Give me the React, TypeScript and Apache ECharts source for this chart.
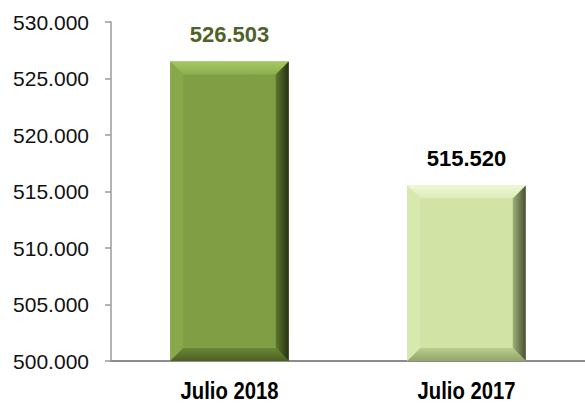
import React, { useEffect, useRef } from "react";
import * as echarts from "echarts";

const categories = ["Julio 2018", "Julio 2017"];
const values = [526503, 515520];
const labelColors = ["#4F6228", "#000000"];
const yMin = 500000;
const yMax = 530000;
const yInterval = 5000;

const palettes = [
  { face: "#809F45", top1: "#A6C862", top2: "#8DAE4E", left: "#88A84A", right1: "#5C772F", right2: "#263010", bottom1: "#6A8836", bottom2: "#4A6022" },
  { face: "#D1E3A5", top1: "#EEF7D6", top2: "#DBEBB6", left: "#D8E9AF", right1: "#A0B078", right2: "#474F32", bottom1: "#BACD8C", bottom2: "#93A66A" },
];

const fmt = (v: number) => String(v).replace(/\B(?=(\d{3})+(?!\d))/g, ".");

export default function App() {
  const ref = useRef<HTMLDivElement>(null);
  useEffect(() => {
    document.body.style.margin = "0";
    const chart = echarts.init(ref.current!, null, { renderer: "svg" });
    chart.setOption({
      animation: false,
      grid: { left: 111, right: -7, top: 22, bottom: 43 },
      xAxis: {
        type: "category",
        data: categories,
        axisLine: { lineStyle: { color: "#8C8C8C", width: 2 } },
        axisTick: { show: false },
        axisLabel: { show: false },
      },
      yAxis: {
        type: "value",
        min: yMin,
        max: yMax,
        interval: yInterval,
        splitLine: { show: false },
        axisLine: { show: true, lineStyle: { color: "#9A9A9A", width: 1.5 } },
        axisTick: { show: true, length: 6, lineStyle: { color: "#9A9A9A", width: 1.5 } },
        axisLabel: {
          margin: 22,
          fontFamily: "'Liberation Sans', Arial, sans-serif",
          fontSize: 21,
          color: "#111",
          formatter: (v: number) => fmt(v),
        },
      },
      series: [
        {
          type: "custom",
          data: values.map((v, i) => [i, v]),
          clip: false,
          renderItem: (params: any, api: any) => {
            const idx = params.dataIndex;
            const p = palettes[idx];
            const topPt = api.coord([api.value(0), api.value(1)]);
            const basePt = api.coord([api.value(0), yMin]);
            const bw = api.size([1, 0])[0] * 0.5;
            const x0 = topPt[0] - bw / 2;
            const x1 = topPt[0] + bw / 2;
            const y0 = topPt[1];
            const y1 = basePt[1];
            const b = 13;
            const grad = (a: number, c: number, d: number, e: number, c1: string, c2: string) =>
              new echarts.graphic.LinearGradient(a, c, d, e, [
                { offset: 0, color: c1 },
                { offset: 1, color: c2 },
              ]);
            return {
              type: "group",
              children: [
                { type: "rect", shape: { x: x0, y: y0, width: x1 - x0, height: y1 - y0 }, style: { fill: p.face } },
                {
                  type: "polygon",
                  shape: { points: [[x0, y0], [x1, y0], [x1 - b, y0 + b], [x0 + b, y0 + b]] },
                  style: { fill: grad(0, 0, 0, 1, p.top1, p.top2) },
                },
                {
                  type: "polygon",
                  shape: { points: [[x0, y0], [x0 + b, y0 + b], [x0 + b, y1 - b], [x0, y1]] },
                  style: { fill: p.left },
                },
                {
                  type: "polygon",
                  shape: { points: [[x1, y0], [x1, y1], [x1 - b, y1 - b], [x1 - b, y0 + b]] },
                  style: { fill: grad(0, 0, 1, 0, p.right1, p.right2) },
                },
                {
                  type: "polygon",
                  shape: { points: [[x0, y1], [x0 + b, y1 - b], [x1 - b, y1 - b], [x1, y1]] },
                  style: { fill: grad(0, 0, 0, 1, p.bottom1, p.bottom2) },
                },
                {
                  type: "text",
                  style: {
                    x: topPt[0],
                    y: y0 - 16,
                    text: fmt(api.value(1)),
                    align: "center",
                    verticalAlign: "bottom",
                    fontFamily: "'Liberation Sans', Arial, sans-serif",
                    fontWeight: "bold",
                    fontSize: 22,
                    fill: labelColors[idx],
                  },
                },
                {
                  type: "text",
                  x: topPt[0],
                  y: y1 + 30,
                  scaleX: 0.88,
                  style: {
                    x: 0,
                    y: 0,
                    text: categories[idx],
                    align: "center",
                    verticalAlign: "middle",
                    fontFamily: "'Liberation Sans', Arial, sans-serif",
                    fontWeight: "bold",
                    fontSize: 23,
                    fill: "#000",
                  },
                },
              ],
            };
          },
        },
      ],
    });
    return () => chart.dispose();
  }, []);
  return <div ref={ref} style={{ width: 585, height: 404 }} />;
}
